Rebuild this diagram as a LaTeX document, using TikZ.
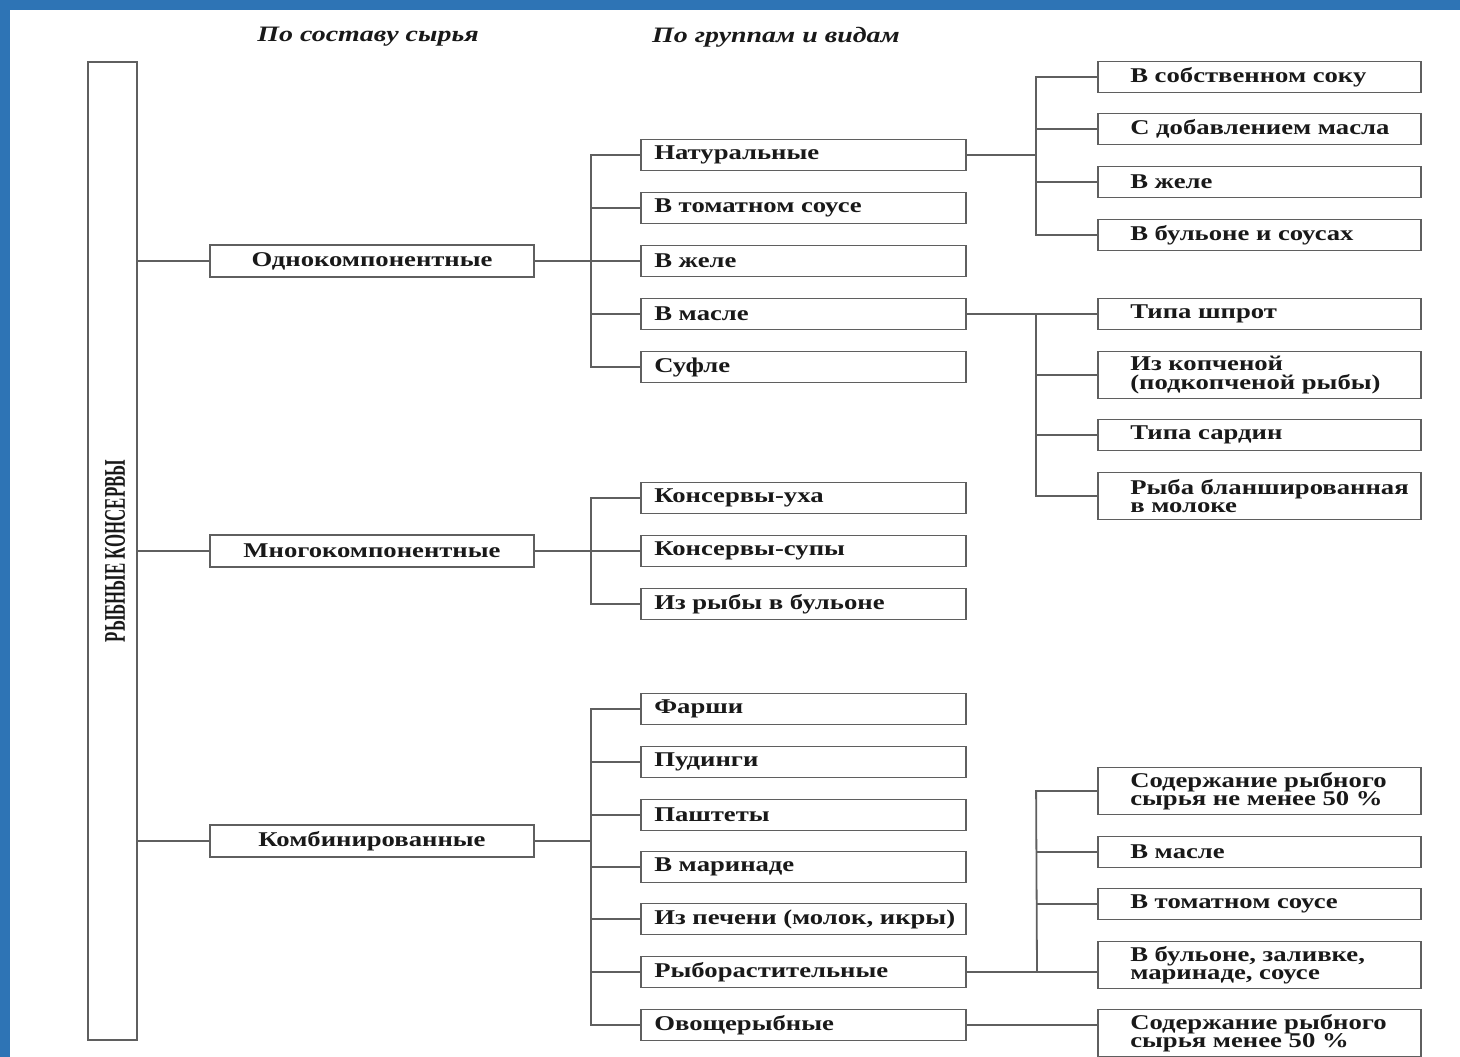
\documentclass[tikz,border=0pt]{standalone}
\usepackage{fontspec}
\setmainfont{Liberation Serif}[FakeStretch=1.27]
\newfontfamily\rotfont{Liberation Serif}
\definecolor{frameblue}{RGB}{46,116,181}
\definecolor{linegray}{RGB}{95,95,95}
\definecolor{txt}{RGB}{25,25,25}
% #1 name, #2 x centre, #3 y centre, #4 text, #5 height, #6 width, #7 left padding
\newcommand\mkleftbox[7]{%
  \node[boxshape,minimum height=#5,minimum width=#6] (#1) at (#2,#3) {};
  \node[boxtext,anchor=west] (#1t) at ([xshift=#7]#1.west) {#4};}
\newcommand\mkmid[3]{\mkleftbox{#1}{803.5}{#2}{#3}{31}{325}{14}}
\newcommand\mkleaf[4]{\mkleftbox{#1}{1259.5}{#2}{#3}{#4}{323}{33}}
\begin{document}
\begin{tikzpicture}[x=1pt,y=-1pt,
  ln/.style={draw=linegray,line width=1.8pt},
  boxshape/.style={draw=linegray,line width=1.8pt,inner sep=0pt},
  boxtext/.style={text=txt,font=\fontsize{21}{18.5}\selectfont\bfseries,inner sep=0pt,align=left},
  lone/.style={boxshape,text=txt,font=\fontsize{21}{18.5}\selectfont\bfseries,minimum width=324,minimum height=32,align=center},
  hdr/.style={font=\fontsize{22}{24}\selectfont\bfseries\itshape,text=txt}
]
\useasboundingbox (0,0) rectangle (1460,1057);
\fill[white] (0,0) rectangle (1460,1057);
\fill[frameblue] (0,0) rectangle (1460,10);
\fill[frameblue] (0,0) rectangle (10,1057);

% headers
\node[hdr] (h1) at (368,37) {По составу сырья};
\node[hdr] (h2) at (776,37) {По группам и видам};

% main box
\node[boxshape,minimum width=49,minimum height=978] (main) at (112.5,551) {};
\node[rotate=90,text=txt,font=\rotfont\bfseries\fontsize{30}{30}\selectfont] (mainlbl) at (115,551) {\scalebox{0.56}[1]{РЫБНЫЕ КОНСЕРВЫ}};

% level 1
\node[lone] (a1) at (372,261) {Однокомпонентные};
\node[lone] (a2) at (372,551) {Многокомпонентные};
\node[lone] (a3) at (372,841) {Комбинированные};
\foreach \n in {a1,a2,a3} \draw[ln] (main.east |- \n.west) -- (\n.west);

% level 2, group 1
\mkmid{b1}{155}{Натуральные}
\mkmid{b2}{208}{В томатном соусе}
\mkmid{b3}{261}{В желе}
\mkmid{b4}{314}{В масле}
\mkmid{b5}{367}{Суфле}
\draw[ln] (a1.east) -- (b3.west);
\draw[ln] (b1.west) -- ++(-49,0) |- (b5.west);
\foreach \n in {b2,b4} \draw[ln] (\n.west) -- ++(-49,0);

% level 2, group 2
\mkmid{c1}{498}{Консервы-уха}
\mkmid{c2}{551}{Консервы-супы}
\mkmid{c3}{604}{Из рыбы в бульоне}
\draw[ln] (a2.east) -- (c2.west);
\draw[ln] (c1.west) -- ++(-49,0) |- (c3.west);

% level 2, group 3
\mkmid{d1}{709}{Фарши}
\mkmid{d2}{762}{Пудинги}
\mkmid{d3}{815}{Паштеты}
\mkmid{d4}{867}{В маринаде}
\mkmid{d5}{919}{Из печени (молок, икры)}
\mkmid{d6}{972}{Рыборастительные}
\mkmid{d7}{1025}{Овощерыбные}
\coordinate (d0) at (592,841);
\draw[ln] (a3.east) -- (d0);
\draw[ln] (d1.west) -- ++(-49,0) |- (d7.west);
\foreach \n in {d2,d3,d4,d5,d6} \draw[ln] (\n.west) -- ++(-49,0);

% level 3, Натуральные
\mkleaf{e1}{77}{В собственном соку}{31}
\mkleaf{e2}{129}{С добавлением масла}{31}
\mkleaf{e3}{182}{В желе}{31}
\mkleaf{e4}{235}{В бульоне и соусах}{31}
\coordinate (e0) at (1037,155);
\draw[ln] (b1.east) -- (e0);
\draw[ln] (e1.west) -- ++(-61,0) |- (e4.west);
\foreach \n in {e2,e3} \draw[ln] (\n.west) -- ++(-61,0);

% level 3, В масле
\mkleaf{f1}{314}{Типа шпрот}{31}
\mkleaf{f2}{375}{Из копченой\\(подкопченой рыбы)}{47}
\mkleaf{f3}{435}{Типа сардин}{31}
\mkleaf{f4}{496}{Рыба бланшированная\\в молоке}{47}
\draw[ln] (b4.east) -- (f1.west);
\draw[ln] (f1.west) -- ++(-61,0) |- (f4.west);
\foreach \n in {f2,f3} \draw[ln] (\n.west) -- ++(-61,0);

% level 3, Рыборастительные
\mkleaf{g1}{791}{Содержание рыбного\\сырья не менее 50 \%}{47}
\mkleaf{g2}{852}{В масле}{31}
\mkleaf{g3}{904}{В томатном соусе}{31}
\mkleaf{g4}{965}{В бульоне, заливке,\\маринаде, соусе}{47}
\coordinate (g0) at (1037,972);
\draw[ln] (d6.east) -- (d6.east -| g4.west);
\draw[ln] (g1.west) -- ++(-61,0) -- (g0);
\foreach \n in {g2,g3} \draw[ln] (\n.west) -- ++(-61,0);

% level 3, Овощерыбные
\mkleaf{k1}{1033}{Содержание рыбного\\сырья менее 50 \%}{47}
\draw[ln] (d7.east) -- (d7.east -| k1.west);
\end{tikzpicture}
\end{document}
